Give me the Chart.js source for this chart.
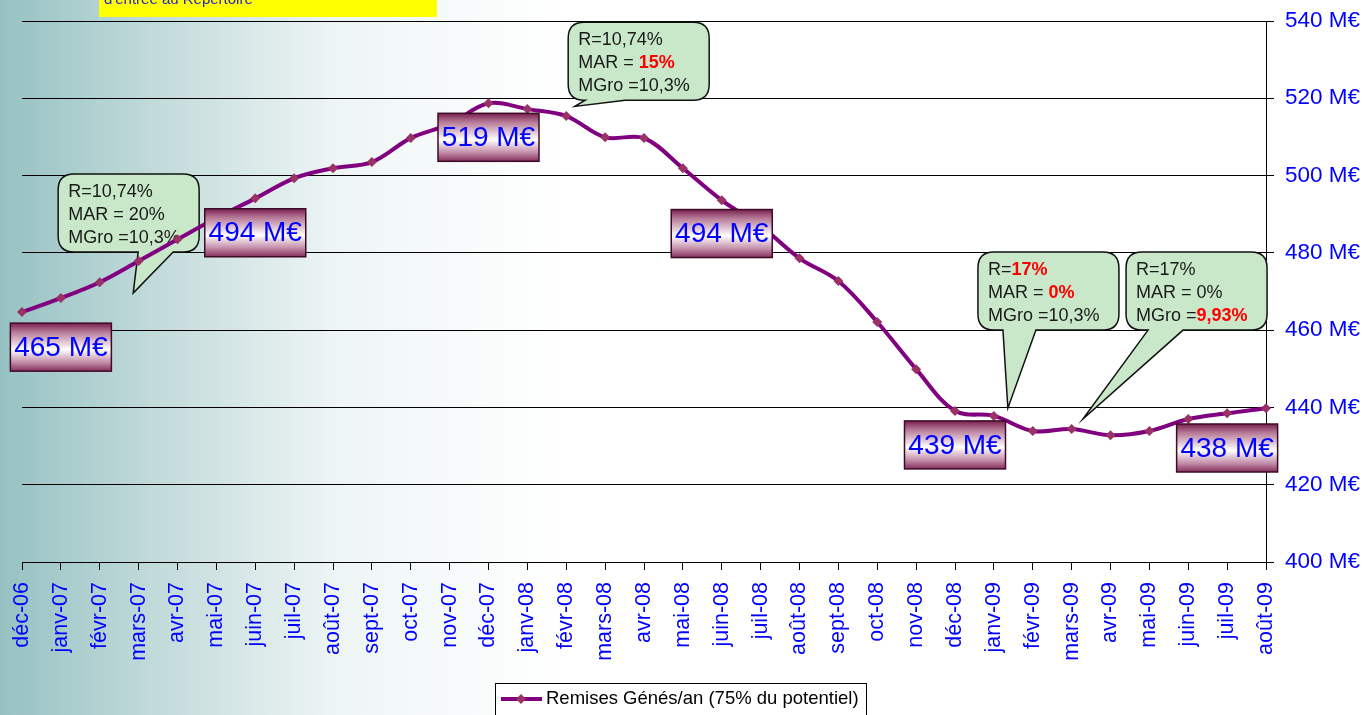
<!DOCTYPE html>
<html>
<head>
<meta charset="utf-8">
<script src="https://cdn.jsdelivr.net/npm/chart.js@4.4.1/dist/chart.umd.min.js"></script>
<style>
  html, body { margin: 0; padding: 0; background: #fff; overflow: hidden; }
  #wrap { width: 1366px; height: 715px; position: relative; }
</style>
</head>
<body>
<div id="wrap"><canvas id="chart" width="1366" height="715"></canvas></div>
<script>
// data
const months = [
  'déc-06', 'janv-07', 'févr-07', 'mars-07', 'avr-07', 'mai-07', 'juin-07', 'juil-07',
  'août-07', 'sept-07', 'oct-07', 'nov-07', 'déc-07', 'janv-08', 'févr-08', 'mars-08',
  'avr-08', 'mai-08', 'juin-08', 'juil-08', 'août-08', 'sept-08', 'oct-08', 'nov-08',
  'déc-08', 'janv-09', 'févr-09', 'mars-09', 'avr-09', 'mai-09', 'juin-09', 'juil-09', 'août-09'
];
const remises = [
  464.7, 468.3, 472.4, 477.9, 483.5, 489.0, 494.1, 499.3,
  501.9, 503.5, 509.7, 513.3, 518.7, 517.2, 515.4, 509.9,
  509.7, 501.9, 493.6, 487.0, 478.6, 472.7, 462.1, 449.9,
  439.1, 437.8, 433.9, 434.4, 432.8, 433.9, 437.0, 438.5, 439.8
];
const seriesLabel = 'Remises Génés/an (75% du potentiel)';
const yTickValues = [400, 420, 440, 460, 480, 500, 520, 540];
const yUnit = ' M€';

// boxed values shown on the curve (category index, value on the y scale)
const valueLabels = [
  { at: 1, y: 455.6, text: '465 M€' },
  { at: 6, y: 485.2, text: '494 M€' },
  { at: 12, y: 509.9, text: '519 M€' },
  { at: 18, y: 485.0, text: '494 M€' },
  { at: 24, y: 430.3, text: '439 M€' },
  { at: 31, y: 429.5, text: '438 M€' }
];

// speech bubbles: [text, highlighted] segments per line
const callouts = [
  { left: 0.93, top: 500.4, tip: [2.86, 469.6], base: [80, 115],
    lines: [[['R=10,74%', false]], [['MAR = 20%', false]], [['MGro =10,3%', false]]] },
  { left: 14.05, top: 539.7, tip: [14.22, 517.9], base: [17, 57],
    lines: [[['R=10,74%', false]], [['MAR = ', false], ['15%', true]], [['MGro =10,3%', false]]] },
  { left: 24.59, top: 480.2, tip: [25.36, 439.8], base: [25, 58],
    lines: [[['R=', false], ['17%', true]], [['MAR = ', false], ['0%', true]], [['MGro =10,3%', false]]] },
  { left: 28.40, top: 480.2, tip: [27.29, 437.0], base: [22, 57],
    lines: [[['R=17%', false]], [['MAR = 0%', false]], [['MGro =', false], ['9,93%', true]]] }
];

const FONT = '"Liberation Sans", Arial, sans-serif';
const BLUE = '#0000ff';

function roundedBubble(ctx, x, y, w, h, r, b0, b1, tx, ty) {
  ctx.beginPath();
  ctx.moveTo(x + r, y);
  ctx.lineTo(x + w - r, y);
  ctx.quadraticCurveTo(x + w, y, x + w, y + r);
  ctx.lineTo(x + w, y + h - r);
  ctx.quadraticCurveTo(x + w, y + h, x + w - r, y + h);
  ctx.lineTo(x + b1, y + h);
  ctx.lineTo(tx, ty);
  ctx.lineTo(x + b0, y + h);
  ctx.lineTo(x + r, y + h);
  ctx.quadraticCurveTo(x, y + h, x, y + h - r);
  ctx.lineTo(x, y + r);
  ctx.quadraticCurveTo(x, y, x + r, y);
  ctx.closePath();
}

const decorations = {
  id: 'decorations',
  beforeDraw(chart) {
    const ctx = chart.ctx;
    const g = ctx.createLinearGradient(0, 0, 560, 0);
    g.addColorStop(0, '#96c1c2');
    g.addColorStop(0.25, '#bed8d8');
    g.addColorStop(0.6, '#eef5f5');
    g.addColorStop(1, '#ffffff');
    ctx.save();
    ctx.fillStyle = g;
    ctx.fillRect(0, 0, chart.width, chart.height);
    ctx.restore();
  },
  beforeDatasetsDraw(chart) {
    const ctx = chart.ctx;
    const xs = chart.scales.x, ys = chart.scales.y;
    ctx.save();
    callouts.forEach(c => {
      const x = xs.getPixelForValue(c.left), y = ys.getPixelForValue(c.top);
      const tx = xs.getPixelForValue(c.tip[0]), ty = ys.getPixelForValue(c.tip[1]);
      roundedBubble(ctx, x, y, 141, 78, 16, c.base[0], c.base[1], tx, ty);
      ctx.fillStyle = '#c9e7c9';
      ctx.fill();
      ctx.lineWidth = 1.5;
      ctx.strokeStyle = '#111';
      ctx.stroke();
      ctx.textBaseline = 'middle';
      c.lines.forEach((line, i) => {
        let cx = x + 10;
        const cy = y + 18 + i * 23;
        line.forEach(([t, hot]) => {
          ctx.font = (hot ? 'bold ' : '') + '18px ' + FONT;
          ctx.fillStyle = hot ? '#ff0000' : '#1a1a1a';
          ctx.fillText(t, cx, cy);
          cx += ctx.measureText(t).width;
        });
      });
    });
    ctx.restore();
  },
  afterDatasetsDraw(chart) {
    const ctx = chart.ctx;
    const xs = chart.scales.x, ys = chart.scales.y;
    ctx.save();
    valueLabels.forEach(v => {
      const cx = xs.getPixelForValue(v.at), cy = ys.getPixelForValue(v.y);
      const w = 101, h = 48, x = cx - w / 2, y = cy - h / 2;
      const g = ctx.createLinearGradient(0, y, 0, y + h);
      g.addColorStop(0, '#7a1f4f');
      g.addColorStop(0.18, '#b57896');
      g.addColorStop(0.55, '#ffffff');
      g.addColorStop(0.82, '#c28ca7');
      g.addColorStop(1, '#852f5c');
      ctx.fillStyle = g;
      ctx.fillRect(x, y, w, h);
      ctx.lineWidth = 1.5;
      ctx.strokeStyle = '#3d0a27';
      ctx.strokeRect(x, y, w, h);
      ctx.font = '28px ' + FONT;
      ctx.fillStyle = BLUE;
      ctx.textAlign = 'center';
      ctx.textBaseline = 'middle';
      ctx.fillText(v.text, cx, cy + 1);
    });
    ctx.restore();
  },
  afterDraw(chart) {
    const ctx = chart.ctx;
    ctx.save();
    // cut-off note box at the top
    ctx.fillStyle = '#ffff00';
    ctx.fillRect(99, 0, 338, 17);
    ctx.font = '15px ' + FONT;
    ctx.fillStyle = '#2323c8';
    ctx.textBaseline = 'alphabetic';
    ctx.fillText("d'entrée au Répertoire", 104, 4);

    // legend
    const ds = chart.data.datasets[0];
    ctx.fillStyle = '#ffffff';
    ctx.fillRect(495.5, 683.5, 371, 40);
    ctx.lineWidth = 1;
    ctx.strokeStyle = '#000';
    ctx.strokeRect(495.5, 683.5, 371, 40);
    ctx.beginPath();
    ctx.moveTo(501, 699);
    ctx.lineTo(542, 699);
    ctx.lineWidth = 4;
    ctx.strokeStyle = ds.borderColor;
    ctx.stroke();
    ctx.beginPath();
    ctx.moveTo(521, 694); ctx.lineTo(526, 699); ctx.lineTo(521, 704); ctx.lineTo(516, 699);
    ctx.closePath();
    ctx.fillStyle = ds.pointBackgroundColor;
    ctx.fill();
    ctx.font = '18.5px ' + FONT;
    ctx.fillStyle = '#000';
    ctx.textBaseline = 'middle';
    ctx.fillText(ds.label, 546, 699);
    ctx.restore();
  }
};

new Chart(document.getElementById('chart'), {
  type: 'line',
  data: {
    labels: months,
    datasets: [{
      label: seriesLabel,
      data: remises,
      borderColor: '#800080',
      borderWidth: 4,
      tension: 0.35,
      pointStyle: 'rectRot',
      pointRadius: 5,
      pointBackgroundColor: '#993366',
      pointBorderColor: '#993366',
      pointBorderWidth: 0,
      fill: false
    }]
  },
  options: {
    responsive: false,
    animation: false,
    devicePixelRatio: 1,
    layout: { padding: { left: 22, top: 21, right: 0, bottom: 0 } },
    plugins: {
      legend: { display: false },
      tooltip: { enabled: false }
    },
    scales: {
      x: {
        offset: false,
        grid: { display: true, drawOnChartArea: false, drawTicks: true, tickLength: 8, color: '#000' },
        border: { display: true, color: '#000', width: 1 },
        ticks: {
          autoSkip: false, minRotation: 90, maxRotation: 90, padding: 12,
          color: BLUE, font: { family: FONT, size: 21.5 }
        },
        afterFit: s => { s.height = 153; }
      },
      y: {
        position: 'right',
        min: 400, max: 540,
        afterBuildTicks: s => { s.ticks = yTickValues.map(v => ({ value: v })); },
        ticks: {
          padding: 11, color: BLUE, font: { family: FONT, size: 22.5, lineHeight: 1.0 },
          callback: v => v + yUnit
        },
        grid: { color: '#000', lineWidth: 1, tickLength: 8 },
        border: { display: true, color: '#000', width: 1 },
        afterFit: s => { s.width = 100; s.paddingTop = 0; s.paddingBottom = 0; }
      }
    }
  },
  plugins: [decorations]
});
</script>
</body>
</html>
